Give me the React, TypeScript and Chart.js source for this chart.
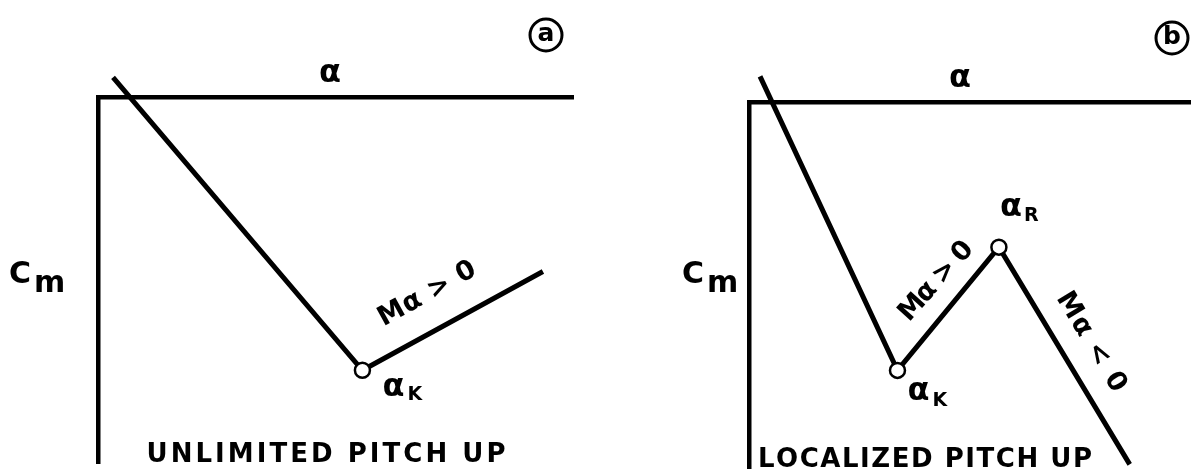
import React, { useEffect, useRef } from "react";
import { Chart, registerables } from "chart.js";

Chart.register(...registerables);

// Angle-of-attack axis range (deg) and pitching-moment axis range
const alphaLimits = [0, 30];
const cmLimits = [-0.3, 0];

// (a) Unlimited pitch up: break at alpha_K, moment keeps rising
const alphaUnlimited = [0.95, 16.7, 28.1];
const cmUnlimited = [0.016, -0.224, -0.143];

// (b) Localized pitch up: rises between alpha_K and alpha_R, then recovers
const alphaLocalized = [0.75, 10.1, 17.0, 25.9];
const cmLocalized = [0.021, -0.22, -0.119, -0.297];

// Open circles at the break points
const markerRadiusUnlimited = [0, 7.5, 0];
const markerRadiusLocalized = [0, 7.5, 7.5, 0];

const FONT = '"DejaVu Sans", "Liberation Sans", sans-serif';

type Mark = {
  text: string;
  size: number;
  dx: number;
  dy: number;
  point?: number; // anchored at a data point, otherwise at the chart-area corner
  sub?: string;
  subSize?: number;
  subGap?: number;
  subDrop?: number;
  align?: "left" | "center";
  angle?: number;
  spread?: number;
  ring?: number;
};

const marksUnlimited: Mark[] = [
  { text: "α", size: 32, dx: 232, dy: -15, align: "center" },
  { text: "C", size: 30, dx: -89, dy: 186, sub: "m", subSize: 30, subGap: 3, subDrop: 9 },
  { text: "α", size: 32, point: 1, dx: 20, dy: 26, sub: "K", subSize: 19, subGap: 3, subDrop: 4 },
  { text: "Mα > 0", size: 27, point: 1, dx: 65, dy: -76, angle: -29, spread: 108 },
  { text: "a", size: 25, dx: 448, dy: -62, ring: 16 },
  { text: "UNLIMITED PITCH UP", size: 26, dx: 228, dy: 365, spread: 359 },
];

const marksLocalized: Mark[] = [
  { text: "α", size: 32, dx: 211, dy: -15, align: "center" },
  { text: "C", size: 30, dx: -67, dy: 181, sub: "m", subSize: 30, subGap: 3, subDrop: 9 },
  { text: "α", size: 32, point: 1, dx: 10, dy: 30, sub: "K", subSize: 19, subGap: 3, subDrop: 6 },
  { text: "α", size: 32, point: 2, dx: 1, dy: -31, sub: "R", subSize: 19, subGap: 2, subDrop: 5 },
  { text: "Mα > 0", size: 27, point: 1, dx: 39, dy: -89, angle: -48, spread: 98 },
  { text: "Mα < 0", size: 27, point: 2, dx: 92, dy: 95, angle: 59, spread: 112 },
  { text: "b", size: 25, dx: 423, dy: -64, ring: 16 },
  { text: "LOCALIZED PITCH UP", size: 26, dx: 176, dy: 365, spread: 334 },
];

function drawSpread(ctx: CanvasRenderingContext2D, text: string, cx: number, y: number, width: number) {
  const chars = [...text];
  const widths = chars.map((c) => ctx.measureText(c).width);
  const total = widths.reduce((a, b) => a + b, 0);
  const gap = chars.length > 1 ? (width - total) / (chars.length - 1) : 0;
  let x = cx - width / 2;
  ctx.textAlign = "left";
  chars.forEach((c, i) => {
    ctx.fillText(c, x, y);
    x += widths[i] + gap;
  });
}

const sketchLabels = {
  id: "sketchLabels",
  afterDatasetsDraw(chart: any, _args: any, opts: any) {
    const { ctx, chartArea, scales } = chart;
    const pts = chart.data.datasets[0].data as { x: number; y: number }[];
    ctx.save();
    ctx.fillStyle = "#000";
    ctx.strokeStyle = "#000";
    for (const m of opts.items as Mark[]) {
      let x = chartArea.left + m.dx;
      let y = chartArea.top + m.dy;
      if (m.point !== undefined) {
        x = scales.x.getPixelForValue(pts[m.point].x) + m.dx;
        y = scales.y.getPixelForValue(pts[m.point].y) + m.dy;
      }
      ctx.font = `bold ${m.size}px ${FONT}`;
      if (m.ring) {
        ctx.lineWidth = 3;
        ctx.beginPath();
        ctx.arc(x, y, m.ring, 0, Math.PI * 2);
        ctx.stroke();
        ctx.textAlign = "center";
        ctx.textBaseline = "middle";
        ctx.fillText(m.text, x, y - 1);
        continue;
      }
      if (m.angle !== undefined) {
        ctx.save();
        ctx.translate(x, y);
        ctx.rotate((m.angle * Math.PI) / 180);
        ctx.textBaseline = "middle";
        drawSpread(ctx, m.text, 0, 0, m.spread ?? ctx.measureText(m.text).width);
        ctx.restore();
        continue;
      }
      ctx.textBaseline = "alphabetic";
      if (m.spread) {
        drawSpread(ctx, m.text, x, y, m.spread);
        continue;
      }
      ctx.textAlign = m.align ?? "left";
      ctx.fillText(m.text, x, y);
      if (m.sub) {
        const w = ctx.measureText(m.text).width;
        ctx.font = `bold ${m.subSize}px ${FONT}`;
        ctx.textAlign = "left";
        ctx.fillText(m.sub, x + w + (m.subGap ?? 0), y + (m.subDrop ?? 0));
      }
    }
    ctx.restore();
  },
};

function axis(position: "top" | "left", limits: number[]) {
  return {
    type: "linear" as const,
    position,
    min: limits[0],
    max: limits[1],
    ticks: { display: false },
    grid: { display: false, drawTicks: false },
    border: { display: true, color: "#000", width: 4.5 },
    afterFit: (s: any) => {
      if (position === "top") s.height = 0;
      else s.width = 0;
    },
  };
}

type PanelProps = {
  alphas: number[];
  cms: number[];
  radii: number[];
  marks: Mark[];
  left: number;
  width: number;
  padding: { left: number; right: number; top: number; bottom: number };
};

function Panel({ alphas, cms, radii, marks, left, width, padding }: PanelProps) {
  const ref = useRef<HTMLCanvasElement>(null);
  useEffect(() => {
    const chart = new Chart(ref.current!, {
      type: "line",
      data: {
        datasets: [
          {
            data: alphas.map((a, i) => ({ x: a, y: cms[i] })),
            borderColor: "#000",
            borderWidth: 5,
            tension: 0,
            pointRadius: radii,
            pointBorderWidth: 2.5,
            pointBorderColor: "#000",
            pointBackgroundColor: "#fff",
            clip: false as any,
          },
        ],
      },
      options: {
        animation: false,
        responsive: false,
        devicePixelRatio: 1,
        layout: { padding },
        plugins: {
          legend: { display: false },
          tooltip: { enabled: false },
          sketchLabels: { items: marks },
        } as any,
        scales: {
          x: axis("top", alphaLimits),
          y: axis("left", cmLimits),
        } as any,
      },
      plugins: [sketchLabels],
    });
    return () => chart.destroy();
  }, []);
  return (
    <canvas
      ref={ref}
      width={width}
      height={476}
      style={{ position: "absolute", left, top: 0, width, height: 476 }}
    />
  );
}

export default function App() {
  return (
    <div style={{ position: "fixed", left: 0, top: 0, width: 1193, height: 476, background: "#fff" }}>
      <Panel
        alphas={alphaUnlimited}
        cms={cmUnlimited}
        radii={markerRadiusUnlimited}
        marks={marksUnlimited}
        left={0}
        width={600}
        padding={{ left: 98, right: 27, top: 97, bottom: 13 }}
      />
      <Panel
        alphas={alphaLocalized}
        cms={cmLocalized}
        radii={markerRadiusLocalized}
        marks={marksLocalized}
        left={600}
        width={593}
        padding={{ left: 149, right: 3, top: 102, bottom: 8 }}
      />
    </div>
  );
}
